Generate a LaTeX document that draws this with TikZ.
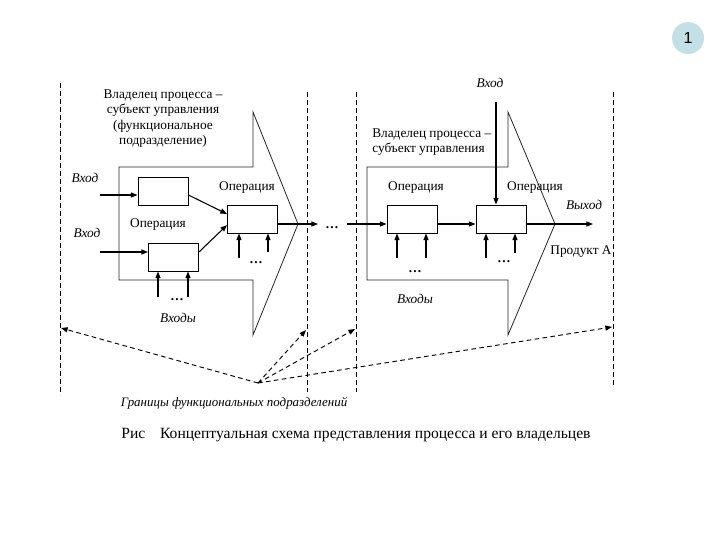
\documentclass[tikz,border=0pt]{standalone}
\usepackage{fontspec}
\setmainfont{Liberation Serif}
\newfontfamily\sansf{Liberation Sans}
\usetikzlibrary{arrows.meta}
\begin{document}
\begin{tikzpicture}[x=0.75pt,y=-0.75pt,
  every node/.style={inner sep=0pt, font=\fontsize{10}{11.6}\selectfont},
  opbox/.style={draw=black, line width=0.7pt, minimum width=37.5pt, minimum height=21pt, inner sep=0pt},
  lbl/.style={font=\fontsize{10}{11.6}\selectfont},
  ilbl/.style={font=\fontsize{10}{11.6}\selectfont\itshape},
  arr/.style={-{Triangle[length=5pt,width=3.8pt]}, line width=0.8pt},
  bigarrow/.style={draw=black!85, line width=0.6pt, line join=miter},
  bound/.style={dashed, dash pattern=on 3.5pt off 2.5pt, line width=0.7pt},
  boundarr/.style={bound, -{Triangle[length=5pt,width=3.8pt]}},
  dotsl/.style={font=\fontsize{10}{11.6}\selectfont\bfseries}
]
\useasboundingbox (0,0) rectangle (720,540);
\fill[white] (0,0) rectangle (720,540);

% badge
\node[circle, fill={rgb,255:red,194;green,224;blue,230}, minimum size=24pt, font=\sansf\fontsize{12}{12}\selectfont] (badge) at (688,38) {1};

% big arrow shapes
\draw[bigarrow] (119,167) -- (253,167) -- (253,112) -- (298,224) -- (253,335) -- (253,280) -- (119,280) -- cycle;
\draw[bigarrow] (367,167) -- (508,167) -- (508,112) -- (555,224) -- (508,335) -- (508,280) -- (367,280) -- cycle;

% boundaries
\coordinate (d1t) at (60,83);  \coordinate (d1b) at (60,395);
\coordinate (d2t) at (307,92); \coordinate (d2b) at (307,392);
\coordinate (d3t) at (356,92); \coordinate (d3b) at (356,392);
\coordinate (d4t) at (613,92); \coordinate (d4b) at (613,386);
\draw[bound] (d1t) -- (d1b);
\draw[bound] (d2t) -- (d2b);
\draw[bound] (d3t) -- (d3b);
\draw[bound] (d4t) -- (d4b);

% owner texts
\node[lbl, align=center] (ownL) at (163,118.5) {Владелец процесса –\\субъект управления\\(функциональное\\подразделение)};
\node[lbl, align=left, anchor=west] (ownR) at (372,142) {Владелец процесса –\\субъект управления};

% boxes
\node[opbox] (b1) at (163,191) {};
\node[opbox] (b2) at (173.5,257) {};
\node[opbox] (b3) at (252.5,219) {};
\node[opbox] (b4) at (412,219) {};
\node[opbox] (b5) at (501,219) {};

% labels
\node[ilbl] (inA) at (85,178) {Вход};
\node[ilbl] (inB) at (87,233) {Вход};
\node[ilbl] (inC) at (490,83) {Вход};
\node[ilbl] (outA) at (584,205) {Выход};
\node[lbl] (op3) at (247,187) {Операция};
\node[lbl] (op2) at (158,224) {Операция};
\node[lbl] (op4) at (416,187) {Операция};
\node[lbl] (op5) at (535,187) {Операция};
\node[lbl] (prod) at (581,252) {Продукт А};
\node[ilbl] (insL) at (178,318) {Входы};
\node[ilbl] (insR) at (415,299) {Входы};
\node[dotsl] (dt3) at (256,263) {…};
\node[dotsl] (dt2) at (177,300) {…};
\node[dotsl] (dtm) at (332,228) {…};
\node[dotsl] (dt4) at (415,272) {…};
\node[dotsl] (dt5) at (504,262) {…};

% left arrows
\coordinate (e1) at (100,195);
\coordinate (e2) at (100,252);
\draw[arr] (e1) -- (b1.west |- e1);
\draw[arr] (e2) -- (b2.west |- e2);
\coordinate (j1) at (227,214);
\coordinate (j2) at (227,225);
\draw[arr] (b1.east |- e1) -- (b3.west |- j1);
\draw[arr] (b2.east |- e2) -- (b3.west |- j2);
\coordinate (m1) at (318,224);
\coordinate (m2) at (347,224);
\coordinate (m3) at (593,224);
\draw[arr] (b3.east |- m1) -- (m1);
\draw[arr] (m2) -- (b4.west |- m2);
\draw[arr] (b4.east |- m2) -- (b5.west |- m2);
\draw[arr] (b5.east |- m3) -- (m3);

% bottom inputs
\coordinate (u31) at (239,258); \coordinate (u32) at (268,252);
\coordinate (u21) at (158,297); \coordinate (u22) at (188,297);
\coordinate (u41) at (397,258); \coordinate (u42) at (426,258);
\coordinate (u51) at (486,258); \coordinate (u52) at (515,253);
\draw[arr] (u31) -- (b3.south -| u31);
\draw[arr] (u32) -- (b3.south -| u32);
\draw[arr] (u21) -- (b2.south -| u21);
\draw[arr] (u22) -- (b2.south -| u22);
\draw[arr] (u41) -- (b4.south -| u41);
\draw[arr] (u42) -- (b4.south -| u42);
\draw[arr] (u51) -- (b5.south -| u51);
\draw[arr] (u52) -- (b5.south -| u52);

% top input
\coordinate (v1) at (496,102);
\draw[arr] (v1) -- (b5.north -| v1);

% boundary pointers
\coordinate (g) at (258,383);
\coordinate (t1) at (61,328);
\coordinate (t2) at (306,330);
\coordinate (t3) at (355,329);
\coordinate (t4) at (612,327);
\draw[boundarr] (g) -- (t1);
\draw[boundarr] (g) -- (t2);
\draw[boundarr] (g) -- (t3);
\draw[boundarr] (g) -- (t4);

\node[font=\fontsize{9.7}{11}\selectfont\itshape] (bnd) at (234,403) {Границы функциональных подразделений};
\node[font=\fontsize{11.7}{14}\selectfont] (cap) at (356,435) {Рис\hspace{11pt}Концептуальная схема представления процесса и его владельцев};
\end{tikzpicture}
\end{document}
